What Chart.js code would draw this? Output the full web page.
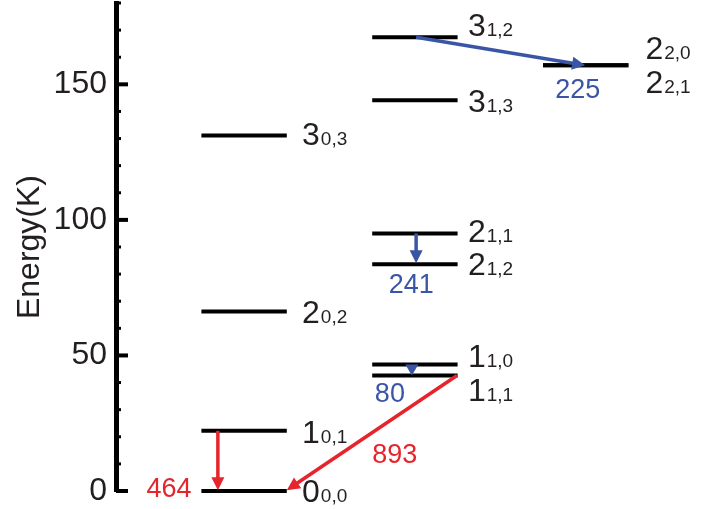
<!DOCTYPE html>
<html><head><meta charset="utf-8">
<script src="https://cdn.jsdelivr.net/npm/chart.js@4/dist/chart.umd.min.js"></script>
<style>html,body{margin:0;padding:0;background:#fff}#wrap{width:726px;height:509px}</style>
</head><body><div id="wrap"><canvas id="c"></canvas></div>
<script>
// ---- data ----
const levelMain   = ['0','1','2','3','1','1','2','2','3','3','2','2'];
const levelSub    = ['0,0','0,1','0,2','0,3','1,1','1,0','1,2','1,1','1,3','1,2','2,0','2,1'];
const levelEnergy = [0, 22.2, 66.2, 131.1, 42.6, 46.7, 83.6, 95.0, 144.1, 167.4, 157.0, 157.0];
const levelColumn = [0, 0, 0, 0, 1, 1, 1, 1, 1, 1, 2, 2];

const arrowValue   = ['464', '893', '241', '80', '225'];
const arrowFromE   = [22.2, 42.6, 95.0, 46.7, 167.4];
const arrowToE     = [0.3, 0.3, 84.0, 42.6, 157.0];
const arrowLabelE  = [-2.2, 10.3, 73.0, 32.8, 145.0];

const yMin = 0, yMax = 180, yStep = 10, yLabelEvery = 50;

// ---- layout (positions in x-axis units, styles) ----
const columnStart  = [1.4, 4.2, 7.0];
const columnEnd    = [2.8, 5.6, 8.4];
const columnLabelX = [3.05, 5.77, 8.68];
const labelDy      = [11, 12, 11, 9, 25, 3, 11, 9, 12, -1, -6, 28];
const arrowFromX   = [1.67, 5.59, 4.92, 4.85, 4.92];
const arrowToX     = [1.67, 2.80, 4.92, 4.85, 7.69];
const arrowLabelX  = [0.87, 4.57, 4.84, 4.49, 7.57];
const arrowColor   = ['#e6242b', '#e6242b', '#3a55a5', '#3a55a5', '#3a55a5'];

const FONT = '"Liberation Sans", Arial, Helvetica, sans-serif';
const TEXT = '#231f20';

const datasets = levelEnergy.map((e, i) => ({
  data: [{x: columnStart[levelColumn[i]], y: e}, {x: columnEnd[levelColumn[i]], y: e}],
  showLine: true, borderColor: '#000', borderWidth: 4, pointRadius: 0,
  borderCapStyle: 'butt', clip: false
}));

const decor = {
  id: 'decor',
  afterDraw(chart) {
    const {ctx, scales: {x, y}, chartArea} = chart;
    ctx.save();
    // inward ticks
    ctx.strokeStyle = '#000';
    y.ticks.forEach(t => {
      const py = y.getPixelForValue(t.value);
      const major = t.value % yLabelEvery === 0;
      ctx.lineWidth = major ? 4 : 3;
      ctx.beginPath();
      ctx.moveTo(chartArea.left, py);
      ctx.lineTo(chartArea.left + (major ? 12 : 5), py);
      ctx.stroke();
    });
    // arrows
    arrowValue.forEach((v, i) => {
      const x1 = x.getPixelForValue(arrowFromX[i]), y1 = y.getPixelForValue(arrowFromE[i]);
      const x2 = x.getPixelForValue(arrowToX[i]),   y2 = y.getPixelForValue(arrowToE[i]);
      const dx = x2 - x1, dy = y2 - y1, len = Math.hypot(dx, dy);
      const ux = dx / len, uy = dy / len;
      const hl = Math.min(13, len), hw = 6.5;
      ctx.strokeStyle = arrowColor[i]; ctx.fillStyle = arrowColor[i];
      ctx.lineWidth = 3.5; ctx.lineCap = 'butt';
      if (len > hl + 1) {
        ctx.beginPath(); ctx.moveTo(x1, y1); ctx.lineTo(x2 - ux * (hl - 2), y2 - uy * (hl - 2)); ctx.stroke();
      }
      const bx = x2 - ux * hl, by = y2 - uy * hl;
      ctx.beginPath();
      ctx.moveTo(x2, y2);
      ctx.lineTo(bx - uy * hw, by + ux * hw);
      ctx.lineTo(bx + uy * hw, by - ux * hw);
      ctx.closePath(); ctx.fill();
      // value label
      ctx.font = '27px ' + FONT;
      ctx.textAlign = 'center'; ctx.textBaseline = 'alphabetic';
      ctx.fillText(v, x.getPixelForValue(arrowLabelX[i]), y.getPixelForValue(arrowLabelE[i]));
    });
    // level labels
    ctx.fillStyle = TEXT; ctx.textAlign = 'left'; ctx.textBaseline = 'alphabetic';
    levelMain.forEach((m, i) => {
      const px = x.getPixelForValue(columnLabelX[levelColumn[i]]);
      const py = y.getPixelForValue(levelEnergy[i]) + labelDy[i];
      ctx.font = '32px ' + FONT;
      ctx.fillText(m, px, py);
      const w = ctx.measureText(m).width;
      ctx.font = '19px ' + FONT;
      ctx.fillText(levelSub[i], px + w + 1, py);
    });
    ctx.restore();
  }
};

new Chart(document.getElementById('c'), {
  type: 'scatter',
  data: {datasets},
  options: {
    responsive: true, maintainAspectRatio: false, animation: false,
    devicePixelRatio: 1,
    layout: {padding: {top: 3, bottom: 18, left: 0, right: 0}},
    plugins: {legend: {display: false}, tooltip: {enabled: false}},
    scales: {
      x: {type: 'linear', min: 0, max: 10, display: false},
      y: {
        type: 'linear', min: yMin, max: yMax,
        afterFit(s) { s.width = 116; s.paddingTop = 0; s.paddingBottom = 0; },
        grid: {display: true, drawOnChartArea: false, drawTicks: false, lineWidth: 1, color: 'rgba(0,0,0,0)'},
        border: {display: true, width: 5, color: '#000'},
        ticks: {
          stepSize: yStep, autoSkip: false, padding: 9, color: TEXT,
          font: {family: FONT, size: 32},
          callback: v => (v % yLabelEvery === 0 ? String(v) : '')
        },
        title: {display: true, text: 'Energy(K)', color: TEXT, font: {family: FONT, size: 32}, padding: {top: 11, bottom: 0}}
      }
    }
  },
  plugins: [decor]
});
</script>
</body></html>
